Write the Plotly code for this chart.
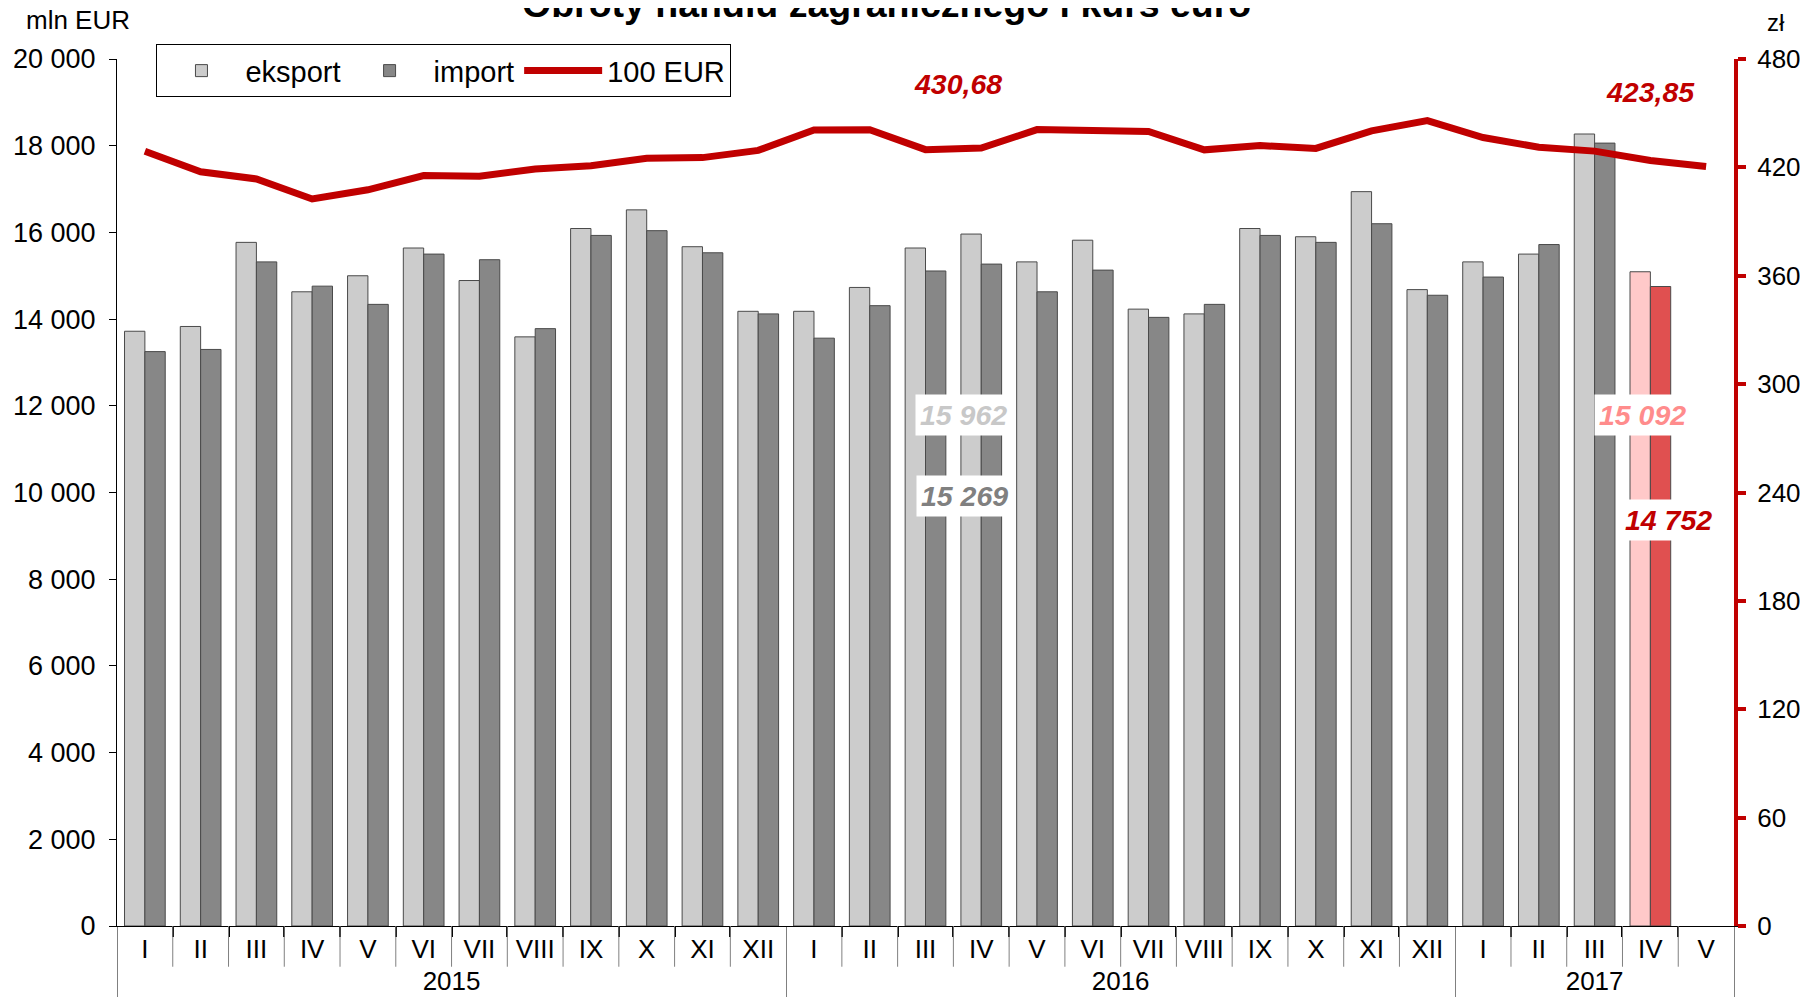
import plotly.graph_objects as go

years = ["2015"] * 12 + ["2016"] * 12 + ["2017"] * 5
months = ["I", "II", "III", "IV", "V", "VI", "VII", "VIII", "IX", "X", "XI", "XII"] * 2 + ["I", "II", "III", "IV", "V"]

eksport = [13720, 13830, 15770, 14630, 15000, 15640, 14890, 13590, 16090, 16520, 15670, 14180,
           14180, 14730, 15640, 15962, 15320, 15820, 14230, 14120, 16090, 15900, 16940, 14680,
           15320, 15500, 18270, 15092, None]
imp = [13250, 13300, 15320, 14760, 14340, 15500, 15370, 13780, 15930, 16040, 15530, 14120,
       13560, 14310, 15110, 15269, 14630, 15130, 14040, 14340, 15930, 15770, 16200, 14550,
       14970, 15720, 18060, 14752, None]
eur100 = [428.9, 417.6, 413.6, 402.5, 407.6, 415.5, 415.1, 419.1, 420.9, 425.1, 425.4, 429.4,
          440.7, 440.8, 429.8, 430.68, 440.9, 440.5, 439.9, 429.7, 432.1, 430.5, 440.2, 445.9,
          436.5, 431.2, 429.0, 423.85, 420.5]

# highlight index (latest month) and reference month
hl = 27
ref = 15

exp_colors = ["#CCCCCC"] * len(months)
imp_colors = ["#878787"] * len(months)
exp_colors[hl] = "#FFC9C9"
imp_colors[hl] = "#E05050"

FONT = "Liberation Sans, Arial, sans-serif"
RED = "#C00000"

x = [years, months]

fig = go.Figure()
fig.add_trace(go.Bar(x=x, y=eksport, name="eksport",
                     marker=dict(color=exp_colors, line=dict(color="#4a4a4a", width=1))))
fig.add_trace(go.Bar(x=x, y=imp, name="import",
                     marker=dict(color=imp_colors, line=dict(color="#4a4a4a", width=1))))
fig.add_trace(go.Scatter(x=x, y=eur100, name="100 EUR", mode="lines", yaxis="y2",
                         line=dict(color=RED, width=7)))

def fmt_int(v):
    return f"{v:,}".replace(",", " ")

def fmt_dec(v):
    return f"{v:.2f}".replace(".", ",")

annots = [
    dict(x=ref, y=eur100[ref] + 35.5, yref="y2", xshift=-23, text=fmt_dec(eur100[ref]),
         font=dict(color=RED)),
    dict(x=hl, y=eur100[hl] + 38, yref="y2", xshift=0, text=fmt_dec(eur100[hl]),
         font=dict(color=RED)),
    dict(x=ref, y=11790, yref="y", xshift=-18, text=fmt_int(eksport[ref]),
         font=dict(color="#C8C8C8"), bgcolor="white"),
    dict(x=ref, y=9920, yref="y", xshift=-17, text=fmt_int(imp[ref]),
         font=dict(color="#808080"), bgcolor="white"),
    dict(x=hl, y=11790, yref="y", xshift=-8, text=fmt_int(eksport[hl]),
         font=dict(color="#FF8C8C"), bgcolor="white"),
    dict(x=hl, y=9370, yref="y", xshift=18, text=fmt_int(imp[hl]),
         font=dict(color=RED), bgcolor="white"),
]
for a in annots:
    f = dict(family=FONT, size=28.5, weight="bold", style="italic")
    f.update(a.pop("font"))
    fig.add_annotation(xref="x", showarrow=False, font=f, borderpad=4, **a)

# title and axis units
fig.add_annotation(xref="paper", yref="paper", x=0.4757, y=1.064, xanchor="center", yanchor="middle",
                   text="<b>Obroty handlu zagranicznego i kurs euro</b>", showarrow=False,
                   font=dict(family=FONT, size=37.5, color="#000"))
fig.add_annotation(xref="paper", yref="paper", x=-0.024, y=1.045, xanchor="center", yanchor="middle",
                   text="mln EUR", showarrow=False, font=dict(family=FONT, size=26, color="#000"))
fig.add_annotation(xref="paper", yref="paper", x=1.026, y=1.042, xanchor="center", yanchor="middle",
                   text="zł", showarrow=False, font=dict(family=FONT, size=24, color="#000"))

# month separators below the axis
n = len(months)
for i in range(1, n):
    if years[i] != years[i - 1]:
        continue
    fig.add_shape(type="line", xref="x", yref="paper", x0=i - 0.5, x1=i - 0.5, y0=0, y1=-0.047,
                  line=dict(color="#808080", width=1))

fig.update_layout(
    width=1800, height=995,
    margin=dict(l=109, r=74, t=51, b=77, autoexpand=False),
    paper_bgcolor="white", plot_bgcolor="white",
    font=dict(family=FONT, size=26, color="#000"),
    separators=", ",
    barmode="group", bargap=0.27, bargroupgap=0,
    showlegend=True,
    legend=dict(orientation="h", x=0.0244, y=1.017, xanchor="left", yanchor="top",
                bordercolor="#000", borderwidth=1, bgcolor="white",
                font=dict(family=FONT, size=29, color="#000"), itemwidth=78),
    xaxis=dict(type="multicategory", showline=True, linecolor="#000", linewidth=1,
               ticks="outside", ticklen=10, tickcolor="#000", tickwidth=1.5, automargin=False,
               showgrid=False, showdividers=True, dividercolor="#808080", dividerwidth=1,
               tickfont=dict(size=26)),
    yaxis=dict(range=[0, 20000], dtick=2000, tickformat=",d", showline=True, linecolor="#000",
               linewidth=1, ticks="outside", ticklen=7, tickcolor="#000", showgrid=False,
               zeroline=False, tickfont=dict(size=27), ticklabelstandoff=8, automargin=False),
    yaxis2=dict(range=[0, 480], dtick=60, overlaying="y", side="right", showline=True,
                linecolor=RED, linewidth=4, ticks="outside", ticklen=8, tickwidth=4,
                tickcolor=RED, showgrid=False, zeroline=False, ticklabelstandoff=6, automargin=False,
                tickfont=dict(size=26, color="#000")),
)

fig.write_html("out.html")
